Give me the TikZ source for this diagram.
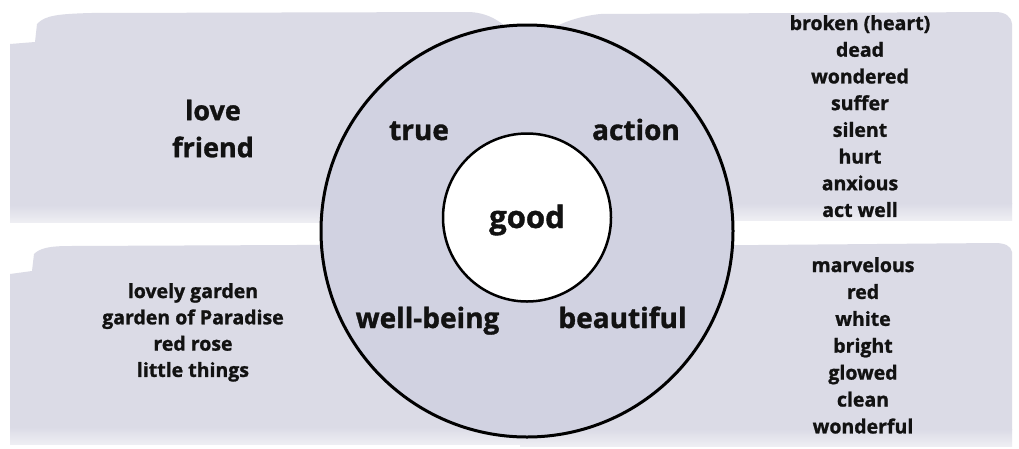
\documentclass[tikz,border=0pt]{standalone}
\usepackage{fontspec}
\setmainfont{Open Sans}[BoldFeatures={FakeBold=1.2}]
\definecolor{brush}{RGB}{219,219,230}
\definecolor{brushlight}{RGB}{238,238,243}
\definecolor{disc}{RGB}{209,210,225}
\definecolor{ink}{RGB}{18,18,18}
\tikzset{
  brushfill/.style={fill=brush, draw=none},
  fadestrip/.style={draw=none, top color=brush, bottom color=brushlight},
  word/.style={font=\fontsize{28}{34}\selectfont\bfseries, text=ink, inner sep=0pt, anchor=base},
  biglist/.style={font=\fontsize{27}{37}\selectfont\bfseries, text=ink, inner sep=0pt, align=center, anchor=north},
  list/.style={font=\fontsize{19.5}{26.7}\selectfont\bfseries, text=ink, inner sep=0pt, align=center, anchor=north},
}
\begin{document}
\begin{tikzpicture}[x=1pt,y=-1pt]
\useasboundingbox (0,0) rectangle (1019,448);
\fill[white] (0,0) rectangle (1019,448);
% brush strokes
\path[brushfill] (10,44) -- (35,42) -- (37,24) .. controls (45,15) and (60,14) .. (90,13)
  -- (470,12) .. controls (485,13) and (495,18) .. (505,26) -- (520,206) -- (10,206) -- cycle;
\path[fadestrip] (10,205) rectangle (520,222);
\path[brushfill] (530,40) .. controls (550,30) and (565,18) .. (600,14) -- (995,12)
  .. controls (1005,12) and (1011,16) .. (1012,24) -- (1012,204) -- (530,204) -- cycle;
\path[fadestrip] (530,203) rectangle (1012,220);
\path[brushfill] (10,274) -- (32,271) -- (34,254) .. controls (40,248) and (50,246) .. (70,246)
  -- (520,244) -- (520,428) -- (10,428) -- cycle;
\path[fadestrip] (10,427) rectangle (520,444);
\path[brushfill] (520,247) -- (995,243) .. controls (1005,243) and (1011,246) .. (1012,252)
  -- (1012,430) -- (520,430) -- cycle;
\path[fadestrip] (520,429) rectangle (1012,446);
% circles
\node[circle, draw=black, line width=3pt, fill=disc, minimum size=412pt, inner sep=0pt] (outer) at (527,231) {};
\node[circle, draw=black, line width=2.5pt, fill=white, minimum size=168pt, inner sep=0pt] (inner) at (527,217.5) {};
% words in the ring
\node[word] (true) at (419,140) {true};
\node[word] (action) at (636,140) {action};
\node[word, font=\fontsize{31}{36}\selectfont\bfseries] (good) at (527,228) {good};
\node[word] (wellbeing) at (427.5,328) {well-being};
\node[word] (beautiful) at (622.5,328) {beautiful};
% side lists
\node[biglist] (tl) at (213,99.5) {love\\friend};
\node[list] (tr) at (860,15) {broken (heart)\\dead\\wondered\\suffer\\silent\\hurt\\anxious\\act well};
\node[list, font=\fontsize{19.5}{26.3}\selectfont\bfseries] (bl) at (193,283) {lovely garden\\garden of Paradise\\red rose\\little things};
\node[list, font=\fontsize{19.5}{26.9}\selectfont\bfseries] (br) at (863,257) {marvelous\\red\\white\\bright\\glowed\\clean\\wonderful};
\end{tikzpicture}
\end{document}
